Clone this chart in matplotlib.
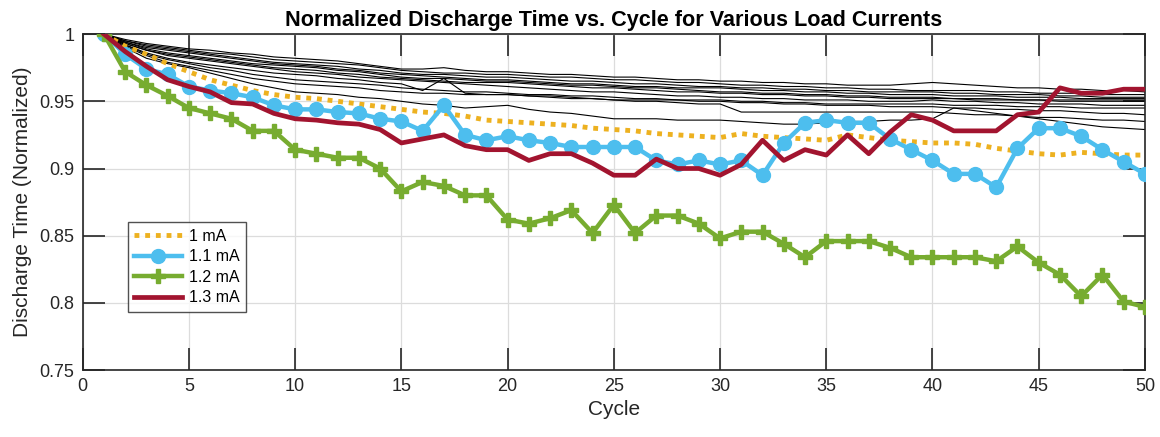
import matplotlib
matplotlib.use("Agg")
import matplotlib.pyplot as plt
import numpy as np

plt.rcParams['font.family'] = ['Liberation Sans', 'DejaVu Sans']

cycles = list(range(1, 51))

# 1 mA (orange dotted)
i_1_0 = [1.000, 0.991, 0.985, 0.978, 0.972, 0.966, 0.962, 0.958, 0.955, 0.953,
         0.952, 0.950, 0.948, 0.946, 0.944, 0.942, 0.941, 0.939, 0.936, 0.935,
         0.934, 0.933, 0.932, 0.930, 0.929, 0.928, 0.926, 0.925, 0.924, 0.923,
         0.926, 0.924, 0.923, 0.922, 0.921, 0.925, 0.923, 0.921, 0.920, 0.919,
         0.919, 0.918, 0.915, 0.913, 0.911, 0.910, 0.912, 0.911, 0.910, 0.910]

# 1.1 mA (blue, circles)
i_1_1 = [1.000, 0.985, 0.974, 0.970, 0.961, 0.958, 0.956, 0.953, 0.947, 0.944,
         0.944, 0.942, 0.941, 0.937, 0.935, 0.928, 0.947, 0.925, 0.921, 0.924,
         0.921, 0.919, 0.916, 0.916, 0.916, 0.916, 0.906, 0.903, 0.906, 0.903,
         0.906, 0.895, 0.919, 0.934, 0.936, 0.934, 0.934, 0.922, 0.914, 0.906,
         0.896, 0.896, 0.886, 0.915, 0.930, 0.930, 0.924, 0.914, 0.905, 0.896]

# 1.2 mA (green, plus)
i_1_2 = [1.000, 0.972, 0.962, 0.954, 0.945, 0.941, 0.937, 0.928, 0.928, 0.914,
         0.911, 0.908, 0.908, 0.900, 0.883, 0.890, 0.887, 0.880, 0.880, 0.862,
         0.859, 0.863, 0.869, 0.852, 0.873, 0.852, 0.865, 0.865, 0.859, 0.848,
         0.853, 0.853, 0.844, 0.834, 0.846, 0.846, 0.846, 0.841, 0.834, 0.834,
         0.834, 0.834, 0.831, 0.842, 0.830, 0.821, 0.805, 0.821, 0.801, 0.797]

# 1.3 mA (dark red)
i_1_3 = [1.000, 0.987, 0.976, 0.966, 0.961, 0.957, 0.949, 0.948, 0.941, 0.937,
         0.936, 0.934, 0.933, 0.929, 0.919, 0.922, 0.925, 0.917, 0.914, 0.914,
         0.906, 0.911, 0.911, 0.904, 0.895, 0.895, 0.907, 0.900, 0.900, 0.895,
         0.903, 0.921, 0.906, 0.914, 0.910, 0.925, 0.911, 0.927, 0.940, 0.936,
         0.928, 0.928, 0.928, 0.940, 0.942, 0.960, 0.956, 0.956, 0.959, 0.959]

# Thin black reference curves
ref_curves = [
    [1.000, 0.996, 0.993, 0.991, 0.989, 0.988, 0.986, 0.985, 0.983, 0.982,
     0.981, 0.980, 0.978, 0.976, 0.974, 0.974, 0.975, 0.973, 0.972, 0.972,
     0.971, 0.970, 0.970, 0.969, 0.968, 0.968, 0.967, 0.966, 0.966, 0.965,
     0.965, 0.964, 0.964, 0.963, 0.963, 0.962, 0.962, 0.962, 0.963, 0.964,
     0.963, 0.962, 0.961, 0.960, 0.960, 0.959, 0.959, 0.958, 0.958, 0.957],
    [1.000, 0.995, 0.992, 0.990, 0.988, 0.986, 0.985, 0.983, 0.981, 0.980,
     0.979, 0.978, 0.977, 0.975, 0.973, 0.972, 0.971, 0.971, 0.970, 0.970,
     0.969, 0.968, 0.968, 0.967, 0.966, 0.966, 0.965, 0.964, 0.964, 0.963,
     0.962, 0.962, 0.961, 0.961, 0.960, 0.960, 0.959, 0.959, 0.958, 0.958,
     0.958, 0.958, 0.957, 0.957, 0.956, 0.956, 0.956, 0.955, 0.955, 0.955],
    [1.000, 0.995, 0.991, 0.989, 0.987, 0.985, 0.983, 0.981, 0.979, 0.978,
     0.977, 0.976, 0.974, 0.973, 0.971, 0.970, 0.970, 0.969, 0.968, 0.968,
     0.967, 0.966, 0.965, 0.965, 0.964, 0.963, 0.963, 0.962, 0.961, 0.961,
     0.960, 0.960, 0.959, 0.959, 0.958, 0.958, 0.957, 0.957, 0.957, 0.957,
     0.956, 0.956, 0.955, 0.955, 0.955, 0.954, 0.954, 0.953, 0.953, 0.953],
    [1.000, 0.994, 0.990, 0.988, 0.986, 0.984, 0.982, 0.980, 0.978, 0.977,
     0.976, 0.974, 0.973, 0.971, 0.970, 0.969, 0.968, 0.967, 0.966, 0.966,
     0.965, 0.964, 0.963, 0.963, 0.962, 0.961, 0.961, 0.960, 0.960, 0.960,
     0.959, 0.958, 0.958, 0.957, 0.957, 0.956, 0.956, 0.955, 0.955, 0.955,
     0.954, 0.954, 0.954, 0.953, 0.953, 0.953, 0.952, 0.952, 0.952, 0.952],
    [1.000, 0.994, 0.989, 0.986, 0.984, 0.982, 0.980, 0.978, 0.977, 0.976,
     0.975, 0.973, 0.972, 0.970, 0.968, 0.967, 0.967, 0.966, 0.965, 0.965,
     0.964, 0.963, 0.962, 0.962, 0.961, 0.960, 0.960, 0.959, 0.958, 0.957,
     0.957, 0.956, 0.956, 0.955, 0.955, 0.954, 0.954, 0.953, 0.953, 0.953,
     0.952, 0.952, 0.952, 0.951, 0.951, 0.951, 0.951, 0.951, 0.951, 0.951],
    [1.000, 0.993, 0.988, 0.985, 0.983, 0.981, 0.979, 0.977, 0.975, 0.974,
     0.973, 0.971, 0.970, 0.968, 0.967, 0.966, 0.965, 0.964, 0.964, 0.964,
     0.963, 0.962, 0.961, 0.960, 0.960, 0.959, 0.958, 0.957, 0.957, 0.956,
     0.956, 0.955, 0.955, 0.954, 0.954, 0.953, 0.953, 0.952, 0.952, 0.952,
     0.952, 0.951, 0.951, 0.951, 0.951, 0.950, 0.950, 0.950, 0.950, 0.950],
    [1.000, 0.993, 0.988, 0.984, 0.982, 0.980, 0.978, 0.976, 0.974, 0.972,
     0.971, 0.970, 0.968, 0.967, 0.966, 0.965, 0.964, 0.963, 0.962, 0.961,
     0.960, 0.959, 0.958, 0.957, 0.957, 0.956, 0.955, 0.954, 0.954, 0.953,
     0.953, 0.952, 0.952, 0.951, 0.951, 0.951, 0.950, 0.950, 0.950, 0.951,
     0.950, 0.950, 0.949, 0.949, 0.948, 0.948, 0.948, 0.947, 0.947, 0.947],
    [1.000, 0.992, 0.986, 0.982, 0.979, 0.977, 0.975, 0.973, 0.971, 0.970,
     0.969, 0.967, 0.966, 0.964, 0.963, 0.958, 0.967, 0.956, 0.955, 0.955,
     0.954, 0.954, 0.953, 0.952, 0.951, 0.951, 0.951, 0.951, 0.951, 0.951,
     0.950, 0.950, 0.949, 0.949, 0.948, 0.948, 0.948, 0.948, 0.948, 0.948,
     0.947, 0.947, 0.947, 0.946, 0.946, 0.946, 0.945, 0.945, 0.945, 0.945],
    [1.000, 0.992, 0.985, 0.981, 0.978, 0.975, 0.973, 0.970, 0.968, 0.966,
     0.965, 0.964, 0.963, 0.962, 0.960, 0.959, 0.958, 0.957, 0.957, 0.956,
     0.955, 0.955, 0.954, 0.954, 0.953, 0.952, 0.952, 0.951, 0.950, 0.950,
     0.949, 0.949, 0.948, 0.948, 0.947, 0.947, 0.947, 0.946, 0.946, 0.946,
     0.945, 0.945, 0.944, 0.944, 0.943, 0.943, 0.942, 0.941, 0.941, 0.940],
    [1.000, 0.991, 0.984, 0.979, 0.976, 0.973, 0.970, 0.967, 0.965, 0.963,
     0.962, 0.961, 0.960, 0.958, 0.957, 0.956, 0.956, 0.955, 0.955, 0.955,
     0.954, 0.953, 0.952, 0.952, 0.951, 0.950, 0.950, 0.949, 0.948, 0.948,
     0.942, 0.942, 0.942, 0.942, 0.942, 0.942, 0.942, 0.942, 0.942, 0.942,
     0.941, 0.940, 0.940, 0.939, 0.938, 0.938, 0.937, 0.936, 0.936, 0.935],
    [1.000, 0.990, 0.982, 0.978, 0.975, 0.971, 0.967, 0.963, 0.960, 0.957,
     0.956, 0.955, 0.953, 0.952, 0.950, 0.948, 0.947, 0.945, 0.946, 0.947,
     0.944, 0.942, 0.941, 0.939, 0.937, 0.937, 0.937, 0.936, 0.936, 0.936,
     0.935, 0.934, 0.933, 0.933, 0.934, 0.935, 0.935, 0.936, 0.936, 0.937,
     0.945, 0.943, 0.941, 0.939, 0.937, 0.935, 0.933, 0.931, 0.930, 0.929],
]

labels = ["1 mA", "1.1 mA", "1.2 mA", "1.3 mA"]
x_ticks = [0, 5, 10, 15, 20, 25, 30, 35, 40, 45, 50]
y_ticks = [0.75, 0.8, 0.85, 0.9, 0.95, 1.0]
y_tick_labels = ["0.75", "0.8", "0.85", "0.9", "0.95", "1"]

fig = plt.figure(figsize=(11.6, 4.37), dpi=100)
ax = fig.add_axes([0.0713, 0.153, 0.9157, 0.769])

for rc in ref_curves:
    ax.plot(cycles, rc, color='black', lw=0.8, zorder=2)

orange = '#EDB120'
blue = '#4DBEEE'
green = '#77AC30'
red = '#A2142F'

h1, = ax.plot(cycles, i_1_0, color=orange, lw=3.5, linestyle=(0, (1, 1.2)), zorder=3, label=labels[0])
h2, = ax.plot(cycles, i_1_1, color=blue, lw=3.2, marker='o', markersize=10,
              markerfacecolor=blue, markeredgecolor=blue, zorder=4, label=labels[1])
h3, = ax.plot(cycles, i_1_2, color=green, lw=3.2, marker='P', markersize=10,
              markerfacecolor=green, markeredgecolor=green, zorder=4, label=labels[2])
h4, = ax.plot(cycles, i_1_3, color=red, lw=3.4, zorder=5, label=labels[3])

ax.set_xlim(0, 50)
ax.set_ylim(0.75, 1.0)
ax.set_xticks(x_ticks)
ax.set_yticks(y_ticks)
ax.set_yticklabels(y_tick_labels)
ax.grid(True, color='#dcdcdc', lw=0.9)
ax.set_axisbelow(True)
ax.tick_params(direction='in', length=16, width=1.2, top=True, right=True,
               labelsize=13, colors='#262626', pad=6)
for s in ax.spines.values():
    s.set_color('#262626')
    s.set_linewidth(1.2)

ax.set_xlabel('Cycle', fontsize=15, color='#262626', labelpad=3)
ax.set_ylabel('Discharge Time (Normalized)', fontsize=15, color='#262626', labelpad=5)
ax.set_title('Normalized Discharge Time vs. Cycle for Various Load Currents',
             fontsize=15.6, fontweight='bold', color='black', pad=6)

leg = ax.legend(handles=[h1, h2, h3, h4], loc='upper left', bbox_to_anchor=(0.0426, 0.44),
                fontsize=11.5, frameon=True, fancybox=False, edgecolor='#262626',
                handlelength=3.0, borderpad=0.4, labelspacing=0.35, handletextpad=0.4,
                borderaxespad=0)
leg.get_frame().set_linewidth(1.0)

fig.savefig('out.png', dpi=100)
